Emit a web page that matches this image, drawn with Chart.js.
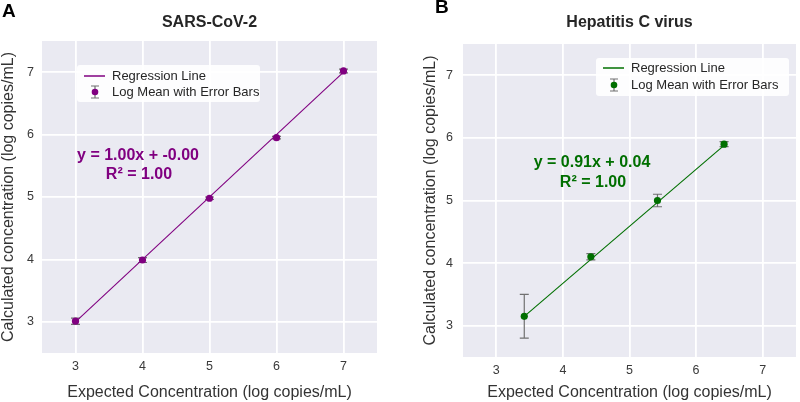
<!DOCTYPE html>
<html>
<head>
<meta charset="utf-8">
<script src="https://cdn.jsdelivr.net/npm/chart.js@4.4.1/dist/chart.umd.min.js"></script>
<style>
html,body{margin:0;padding:0;background:#fff;overflow:hidden;}
#wrap{position:relative;width:800px;height:402px;}
.c{position:absolute;top:0;width:400px;height:402px;}
#cA{left:0;} #cB{left:400px;}
</style>
</head>
<body>
<div id="wrap">
  <div class="c" id="cA"><canvas id="chartA" width="400" height="402"></canvas></div>
  <div class="c" id="cB"><canvas id="chartB" width="400" height="402"></canvas></div>
</div>
<script>
// ---- Data ----
const tickValues = [3, 4, 5, 6, 7];

// Panel A: SARS-CoV-2
const sarsExpected = [3, 4, 5, 6, 7];
const sarsMean     = [3.01, 3.99, 4.98, 5.95, 7.02];
const sarsErr      = [0.05, 0.04, 0.02, 0.02, 0.03];
const sarsRegX     = [3, 7];
const sarsRegY     = [3.00, 7.00];

// Panel B: Hepatitis C virus
const hcvExpected = [3.42, 4.42, 5.42, 6.42];
const hcvMean     = [3.15, 4.10, 5.00, 5.90];
const hcvErr      = [0.35, 0.05, 0.10, 0.04];
const hcvRegX     = [3.42, 6.42];
const hcvRegY     = [3.15, 5.88];

const FONT = '"Liberation Sans", Arial, sans-serif';
const BG = '#EAEAF2';
const ERRC = '#707070';

function pts(xs, ys) { return xs.map((x, i) => ({ x: x, y: ys[i] })); }

function makeChart(id, o) {
  const ctxEl = document.getElementById(id);
  const plugin = {
    id: 'custom' + id,
    beforeDraw(chart) {
      const { ctx, chartArea: a } = chart;
      ctx.save();
      ctx.fillStyle = BG;
      ctx.fillRect(a.left, a.top, a.right - a.left, a.bottom - a.top);
      ctx.restore();
    },
    beforeDatasetsDraw(chart) {
      const { ctx } = chart;
      const xs = chart.scales.x, ys = chart.scales.y;
      ctx.save();
      ctx.strokeStyle = ERRC;
      ctx.lineWidth = 1.2;
      o.px.forEach((xv, i) => {
        const x = xs.getPixelForValue(xv);
        const y1 = ys.getPixelForValue(o.py[i] + o.err[i]);
        const y2 = ys.getPixelForValue(o.py[i] - o.err[i]);
        ctx.beginPath();
        ctx.moveTo(x, y1); ctx.lineTo(x, y2);
        ctx.moveTo(x - 4.5, y1); ctx.lineTo(x + 4.5, y1);
        ctx.moveTo(x - 4.5, y2); ctx.lineTo(x + 4.5, y2);
        ctx.stroke();
      });
      ctx.restore();
    },
    afterDraw(chart) {
      const { ctx, chartArea: a } = chart;
      ctx.save();
      // panel letter
      ctx.fillStyle = '#000';
      ctx.font = 'bold 19px ' + FONT;
      ctx.textAlign = 'left'; ctx.textBaseline = 'middle';
      ctx.fillText(o.letter, o.letterX, o.letterY);
      // title
      ctx.fillStyle = '#262626';
      ctx.font = 'bold 16px ' + FONT;
      ctx.textAlign = 'center';
      ctx.fillText(o.title, (a.left + a.right) / 2, 23);
      // axis titles
      ctx.fillStyle = '#333';
      ctx.font = '16px ' + FONT;
      ctx.fillText('Expected Concentration (log copies/mL)', (a.left + a.right) / 2, 393);
      ctx.save();
      ctx.translate(o.yTitleX, (a.top + a.bottom) / 2);
      ctx.rotate(-Math.PI / 2);
      ctx.fillText('Calculated concentration (log copies/mL)', 0, 0);
      ctx.restore();
      // equation annotation
      ctx.fillStyle = o.color;
      ctx.font = 'bold 16px ' + FONT;
      ctx.fillText(o.eq1, o.eqX, o.eqY1);
      ctx.fillText(o.eq2, o.eqX + 1, o.eqY2);
      // legend
      const L = o.legend;
      ctx.fillStyle = 'rgba(255,255,255,0.9)';
      ctx.beginPath();
      if (ctx.roundRect) ctx.roundRect(L.x, L.y, L.w, L.h, 3); else ctx.rect(L.x, L.y, L.w, L.h);
      ctx.fill();
      ctx.strokeStyle = o.color;
      ctx.lineWidth = 1.5;
      ctx.beginPath();
      ctx.moveTo(L.x + 7, L.r1); ctx.lineTo(L.x + 28, L.r1);
      ctx.stroke();
      const mx = L.x + 18;
      ctx.strokeStyle = ERRC; ctx.lineWidth = 1.2;
      ctx.beginPath();
      ctx.moveTo(mx, L.r2 - 6); ctx.lineTo(mx, L.r2 + 6);
      ctx.moveTo(mx - 4, L.r2 - 6); ctx.lineTo(mx + 4, L.r2 - 6);
      ctx.moveTo(mx - 4, L.r2 + 6); ctx.lineTo(mx + 4, L.r2 + 6);
      ctx.stroke();
      ctx.fillStyle = o.color;
      ctx.beginPath(); ctx.arc(mx, L.r2, 3.3, 0, Math.PI * 2); ctx.fill();
      ctx.fillStyle = '#262626';
      ctx.font = '13px ' + FONT;
      ctx.textAlign = 'left';
      ctx.fillText('Regression Line', L.x + 35, L.r1);
      ctx.fillText('Log Mean with Error Bars', L.x + 35, L.r2);
      ctx.restore();
    }
  };

  return new Chart(ctxEl, {
    type: 'scatter',
    data: {
      datasets: [
        {
          type: 'line',
          label: 'Regression Line',
          data: pts(o.rx, o.ry),
          borderColor: o.color,
          borderWidth: 1.1,
          pointRadius: 0,
          fill: false,
          order: 2
        },
        {
          type: 'scatter',
          label: 'Log Mean with Error Bars',
          data: pts(o.px, o.py),
          backgroundColor: o.color,
          borderColor: o.color,
          pointRadius: 3.6,
          borderWidth: 0,
          order: 1
        }
      ]
    },
    options: {
      responsive: false,
      animation: false,
      devicePixelRatio: 1,
      layout: { padding: o.pad },
      plugins: { legend: { display: false }, tooltip: { enabled: false }, title: { display: false } },
      scales: {
        x: {
          type: 'linear', min: 2.5, max: 7.5,
          afterBuildTicks(s) { s.ticks = tickValues.map(v => ({ value: v })); },
          afterFit(s) { s.height = o.xH; },
          grid: { color: '#ffffff', lineWidth: 1.8, drawTicks: false },
          border: { display: false },
          ticks: { color: '#3a3a3a', font: { family: FONT, size: 12.5 }, padding: o.xPad, maxRotation: 0 }
        },
        y: {
          type: 'linear', min: 2.5, max: 7.5,
          afterBuildTicks(s) { s.ticks = tickValues.map(v => ({ value: v })); },
          afterFit(s) { s.width = o.yW; },
          grid: { color: '#ffffff', lineWidth: 1.8, drawTicks: false },
          border: { display: false },
          ticks: { color: '#3a3a3a', font: { family: FONT, size: 12.5 }, padding: o.yPad }
        }
      }
    },
    plugins: [plugin]
  });
}

makeChart('chartA', {
  letter: 'A', letterX: 2, letterY: 12,
  title: 'SARS-CoV-2',
  color: '#800080',
  px: sarsExpected, py: sarsMean, err: sarsErr,
  rx: sarsRegX, ry: sarsRegY,
  pad: { top: 41, right: 23, left: 0, bottom: 0 },
  xH: 49, yW: 42, xPad: 6, yPad: 8,
  yTitleX: 9,
  eq1: 'y = 1.00x + -0.00', eq2: 'R\u00b2 = 1.00', eqX: 138, eqY1: 156, eqY2: 175,
  legend: { x: 77, y: 65, w: 183, h: 37, r1: 76, r2: 92 }
});

makeChart('chartB', {
  letter: 'B', letterX: 35, letterY: 8,
  title: 'Hepatitis C virus',
  color: '#006f00',
  px: hcvExpected, py: hcvMean, err: hcvErr,
  rx: hcvRegX, ry: hcvRegY,
  pad: { top: 44, right: 0, left: 0, bottom: 0 },
  xH: 45, yW: 63, xPad: 6, yPad: 10,
  yTitleX: 31,
  eq1: 'y = 0.91x + 0.04', eq2: 'R\u00b2 = 1.00', eqX: 192, eqY1: 163, eqY2: 183,
  legend: { x: 196, y: 58, w: 193, h: 38, r1: 68, r2: 85 }
});
</script>
</body>
</html>
